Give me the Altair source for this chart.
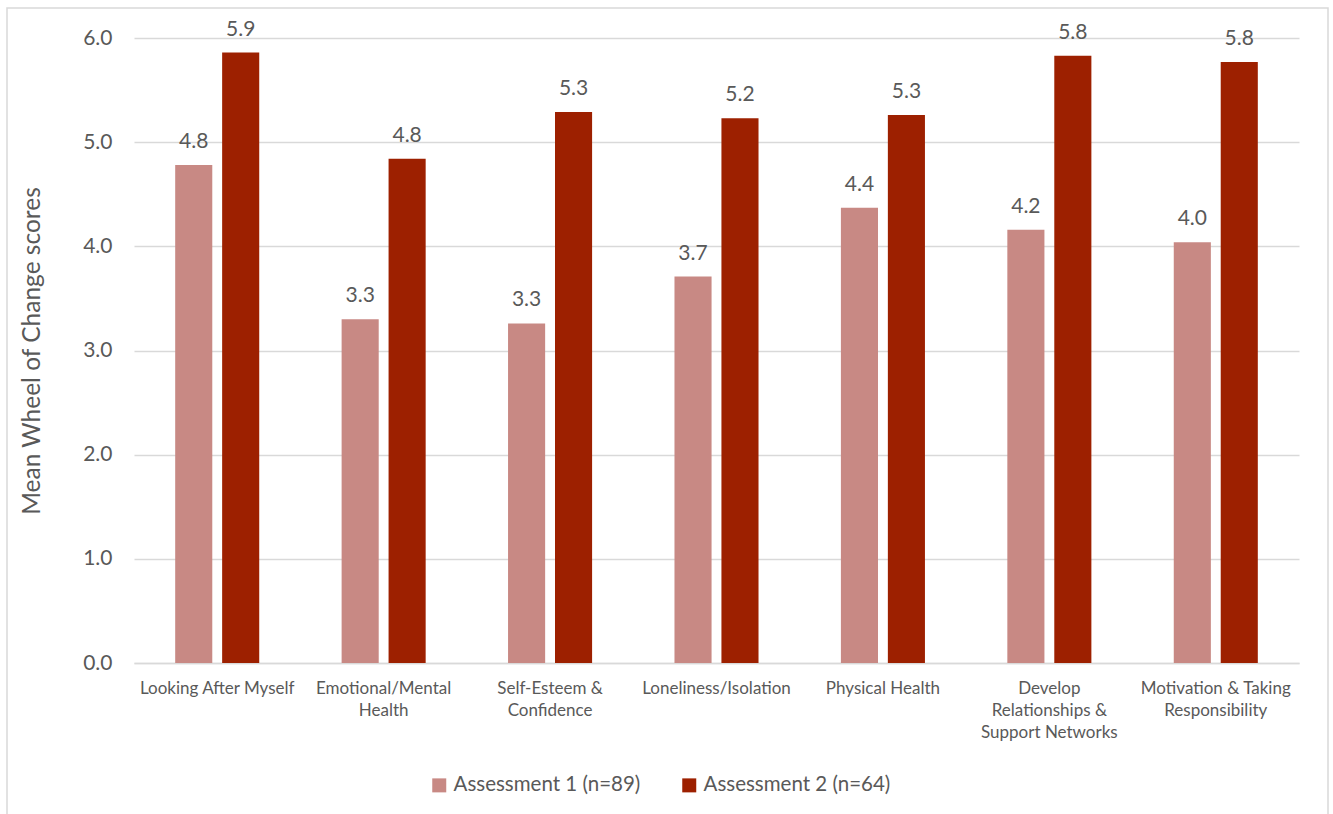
import altair as alt
import pandas as pd

categories = [
    "Looking After Myself",
    "Emotional/Mental Health",
    "Self-Esteem & Confidence",
    "Loneliness/Isolation",
    "Physical Health",
    "Develop Relationships & Support Networks",
    "Motivation & Taking Responsibility",
]
label_lines = [
    ["Looking After Myself"],
    ["Emotional/Mental", "Health"],
    ["Self-Esteem &", "Confidence"],
    ["Loneliness/Isolation"],
    ["Physical Health"],
    ["Develop", "Relationships &", "Support Networks"],
    ["Motivation & Taking", "Responsibility"],
]
series = ["Assessment 1 (n=89)", "Assessment 2 (n=64)"]
assessment1 = [4.78, 3.30, 3.26, 3.71, 4.37, 4.16, 4.04]
assessment2 = [5.86, 4.84, 5.29, 5.23, 5.26, 5.83, 5.77]
colors = ["#C88984", "#9D2000"]
y_ticks = [0, 1, 2, 3, 4, 5, 6]

rows = []
for c, v1, v2 in zip(categories, assessment1, assessment2):
    rows.append({"Category": c, "Assessment": series[0], "Score": v1})
    rows.append({"Category": c, "Assessment": series[1], "Score": v2})
df = pd.DataFrame(rows)

def js_str(s):
    return "'" + s.replace("'", "\\'") + "'"

parts = []
for c, lines in zip(categories, label_lines):
    arr = "[" + ",".join(js_str(l) for l in lines) + "]"
    parts.append(f"datum.value === {js_str(c)} ? {arr}")
label_expr = " : ".join(parts) + " : datum.value"

TEXT = "#595959"
GRID = "#D9D9D9"
FONT = "Lato"

x_enc = alt.X(
    "Category:N",
    sort=categories,
    scale=alt.Scale(paddingInner=0.495, paddingOuter=0.2475),
    axis=alt.Axis(
        title=None,
        labelAngle=0,
        labelExpr=label_expr,
        labelFontSize=17,
        labelColor=TEXT,
        labelFont=FONT,
        labelLineHeight=22,
        labelBaseline="top",
        labelPadding=17,
        labelLimit=300,
        ticks=False,
        domain=True,
        domainColor=GRID,
        domainWidth=1.5,
        grid=False,
    ),
)
xoff = alt.XOffset(
    "Assessment:N",
    sort=series,
    scale=alt.Scale(paddingInner=0.21, paddingOuter=0),
)
y_enc = alt.Y(
    "Score:Q",
    scale=alt.Scale(domain=[0, 6], nice=False),
    axis=alt.Axis(
        title="Mean Wheel of Change scores",
        titleFontSize=24.5,
        titleFontWeight="normal",
        titleColor=TEXT,
        titleFont=FONT,
        titlePadding=38,
        values=y_ticks,
        format=".1f",
        labelFontSize=21,
        labelColor=TEXT,
        labelFont=FONT,
        labelPadding=22,
        ticks=False,
        domain=False,
        grid=True,
        gridColor=GRID,
        gridWidth=1.5,
    ),
)

base = alt.Chart(df).encode(x=x_enc, xOffset=xoff, y=y_enc)

bars = base.mark_bar().encode(
    color=alt.Color(
        "Assessment:N",
        sort=series,
        scale=alt.Scale(domain=series, range=colors),
        legend=alt.Legend(
            title=None,
            orient="none",
            direction="horizontal",
            legendX=295,
            legendY=737,
            symbolType="square",
            symbolSize=196,
            symbolStrokeWidth=0,
            labelFontSize=20.5,
            labelFont=FONT,
            labelColor=TEXT,
            labelOffset=4,
            labelLimit=400,
            columnPadding=38,
            padding=0,
        ),
    )
)

labels = base.mark_text(
    baseline="alphabetic", dy=-17, fontSize=21, font=FONT, color=TEXT
).encode(text=alt.Text("Score:Q", format=".1f"))

frame = alt.Chart(alt.Data(values=[{}])).mark_rect(
    fillOpacity=0, stroke=GRID, strokeWidth=1.5
).encode(
    x=alt.value(-127), x2=alt.value(1194), y=alt.value(-30), y2=alt.value(800)
)

chart = (
    alt.layer(frame, bars, labels)
    .properties(
        width=1165,
        height=625,
        autosize=alt.AutoSizeParams(type="none"),
        padding={"left": 134, "top": 38, "right": 34, "bottom": 151},
        background="white",
    )
    .configure_view(stroke=None)
)

chart.save("out.html", embed_options={"renderer": "svg", "actions": False})
